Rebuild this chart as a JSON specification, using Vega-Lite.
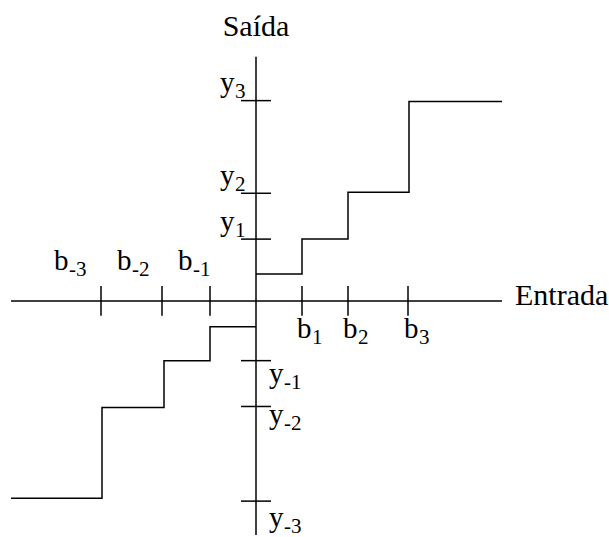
{
  "$schema": "https://vega.github.io/schema/vega-lite/v6.json",
  "width": 609,
  "height": 537,
  "autosize": {"type": "fit", "contains": "padding"},
  "padding": 0,
  "background": "white",
  "config": {"view": {"stroke": null}},
  "datasets": {
    "segments": [
      {"part": "eixo entrada", "x": -245, "y": 0, "x2": 246, "y2": 0},
      {"part": "eixo saida", "x": 0, "y": 245, "x2": 0, "y2": -235},
      {"part": "b-3", "x": -155, "y": 15, "x2": -155, "y2": -15},
      {"part": "b-2", "x": -94, "y": 15, "x2": -94, "y2": -15},
      {"part": "b-1", "x": -46, "y": 15, "x2": -46, "y2": -15},
      {"part": "b1", "x": 46, "y": 15, "x2": 46, "y2": -15},
      {"part": "b2", "x": 92, "y": 15, "x2": 92, "y2": -15},
      {"part": "b3", "x": 152, "y": 15, "x2": 152, "y2": -15},
      {"part": "y3", "x": -15, "y": 201, "x2": 15, "y2": 201},
      {"part": "y2", "x": -15, "y": 108, "x2": 15, "y2": 108},
      {"part": "y1", "x": -15, "y": 62, "x2": 15, "y2": 62},
      {"part": "y-1", "x": -15, "y": -60, "x2": 15, "y2": -60},
      {"part": "y-2", "x": -15, "y": -106, "x2": 15, "y2": -106},
      {"part": "y-3", "x": -15, "y": -201, "x2": 15, "y2": -201}
    ],
    "steps": [
      {"branch": "pos", "order": 1, "x": 0, "y": 27},
      {"branch": "pos", "order": 2, "x": 46, "y": 27},
      {"branch": "pos", "order": 3, "x": 46, "y": 62},
      {"branch": "pos", "order": 4, "x": 92, "y": 62},
      {"branch": "pos", "order": 5, "x": 92, "y": 109},
      {"branch": "pos", "order": 6, "x": 153, "y": 109},
      {"branch": "pos", "order": 7, "x": 153, "y": 200},
      {"branch": "pos", "order": 8, "x": 246, "y": 200},
      {"branch": "neg", "order": 1, "x": 0, "y": -26},
      {"branch": "neg", "order": 2, "x": -46, "y": -26},
      {"branch": "neg", "order": 3, "x": -46, "y": -60},
      {"branch": "neg", "order": 4, "x": -92, "y": -60},
      {"branch": "neg", "order": 5, "x": -92, "y": -107},
      {"branch": "neg", "order": 6, "x": -154, "y": -107},
      {"branch": "neg", "order": 7, "x": -154, "y": -198},
      {"branch": "neg", "order": 8, "x": -245, "y": -198}
    ],
    "labels": [
      {"letter": "b", "sub": "-3", "x": -202, "y": 31},
      {"letter": "b", "sub": "-2", "x": -139, "y": 31},
      {"letter": "b", "sub": "-1", "x": -78, "y": 31},
      {"letter": "b", "sub": "1", "x": 41, "y": -37},
      {"letter": "b", "sub": "2", "x": 87, "y": -37},
      {"letter": "b", "sub": "3", "x": 148, "y": -37},
      {"letter": "y", "sub": "3", "x": -36, "y": 210},
      {"letter": "y", "sub": "2", "x": -36, "y": 116},
      {"letter": "y", "sub": "1", "x": -36, "y": 70},
      {"letter": "y", "sub": "-1", "x": 13, "y": -82},
      {"letter": "y", "sub": "-2", "x": 13, "y": -124},
      {"letter": "y", "sub": "-3", "x": 13, "y": -227}
    ],
    "titles": [
      {"text": "Saída", "x": 0, "y": 266, "anchor": "center"},
      {"text": "Entrada", "x": 259, "y": -4, "anchor": "left"}
    ]
  },
  "encoding": {
    "x": {"field": "x", "type": "quantitative", "scale": {"domain": [-256, 353], "nice": false, "zero": false}, "axis": null},
    "y": {"field": "y", "type": "quantitative", "scale": {"domain": [-235, 302], "nice": false, "zero": false}, "axis": null}
  },
  "layer": [
    {
      "data": {"name": "segments"},
      "mark": {"type": "rule", "color": "black", "strokeWidth": 1.5},
      "encoding": {
        "x2": {"field": "x2"},
        "y2": {"field": "y2"}
      }
    },
    {
      "data": {"name": "steps"},
      "mark": {"type": "line", "color": "black", "strokeWidth": 1.5, "interpolate": "linear"},
      "encoding": {
        "detail": {"field": "branch", "type": "nominal"},
        "order": {"field": "order", "type": "quantitative"}
      }
    },
    {
      "data": {"name": "labels"},
      "mark": {"type": "text", "font": "Liberation Serif", "fontSize": 29, "align": "left", "baseline": "alphabetic", "color": "black"},
      "encoding": {"text": {"field": "letter"}}
    },
    {
      "data": {"name": "labels"},
      "mark": {"type": "text", "font": "Liberation Serif", "fontSize": 21, "align": "left", "baseline": "alphabetic", "dx": 15, "dy": 6, "color": "black"},
      "encoding": {"text": {"field": "sub"}}
    },
    {
      "data": {"name": "titles"},
      "transform": [{"filter": "datum.anchor === 'center'"}],
      "mark": {"type": "text", "font": "Liberation Serif", "fontSize": 30, "align": "center", "baseline": "alphabetic", "color": "black"},
      "encoding": {"text": {"field": "text"}}
    },
    {
      "data": {"name": "titles"},
      "transform": [{"filter": "datum.anchor === 'left'"}],
      "mark": {"type": "text", "font": "Liberation Serif", "fontSize": 30, "align": "left", "baseline": "alphabetic", "color": "black"},
      "encoding": {"text": {"field": "text"}}
    }
  ]
}
